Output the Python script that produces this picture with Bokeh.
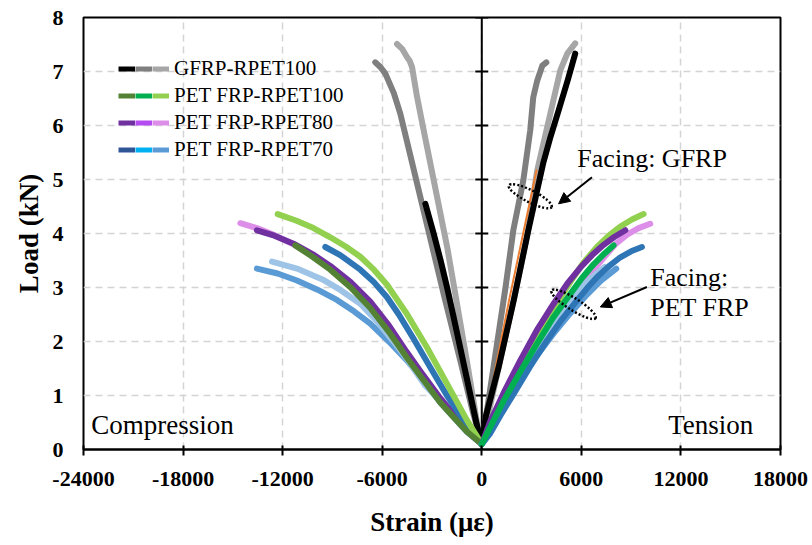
from bokeh.plotting import figure
from bokeh.models import (Range1d, FixedTicker, Legend, LegendItem, Label, Arrow,
                          NormalHead, Span, CustomJSTickFormatter)
from bokeh.embed import file_html
from bokeh.resources import INLINE

# ---------------- axes ----------------
x_ticks = [-24000, -18000, -12000, -6000, 0, 6000, 12000, 18000]
y_ticks = [0, 1, 2, 3, 4, 5, 6, 7, 8]

# ---------------- GFRP-RPET100 ----------------
gfrp_black_comp_strain = [0, -330, -680, -1030, -1380, -1730, -2090, -2480, -2900, -3400]
gfrp_black_comp_load = [0.1, 0.5, 1.0, 1.5, 2.0, 2.5, 3.0, 3.5, 4.0, 4.55]
gfrp_black_ten_strain = [0, 240, 1020, 1930, 2770, 3250, 3700, 4150, 4580, 5180, 5630]
gfrp_black_ten_load = [0.1, 0.61, 1.53, 2.77, 4.01, 4.68, 5.3, 5.8, 6.23, 6.84, 7.33]

gfrp_dgray_comp_strain = [0, -560, -1300, -2250, -3700, -4910, -5300, -5810, -6100, -6420]
gfrp_dgray_comp_load = [0.1, 0.72, 1.65, 2.82, 4.67, 6.22, 6.6, 6.96, 7.08, 7.17]
gfrp_dgray_ten_strain = [0, 450, 940, 1430, 1900, 2500, 2920, 3100, 3340, 3650, 3890]
gfrp_dgray_ten_load = [0.1, 1.0, 2.0, 3.0, 4.06, 4.98, 5.91, 6.52, 6.83, 7.11, 7.17]

gfrp_lgray_comp_strain = [0, -210, -870, -2080, -3500, -3900, -4200, -4350, -4510, -4800, -5110]
gfrp_lgray_comp_load = [0.1, 0.35, 1.59, 3.74, 5.91, 6.53, 7.08, 7.2, 7.27, 7.42, 7.51]
gfrp_lgray_ten_strain = [0, 1020, 1930, 2770, 3340, 4130, 4730, 5150, 5630]
gfrp_lgray_ten_load = [0.1, 1.53, 2.77, 4.01, 5.17, 6.22, 7.02, 7.33, 7.52]

gfrp_orange_ten_strain = [0, 700, 1650, 2500, 3300]
gfrp_orange_ten_load = [0.1, 1.3, 2.77, 4.01, 5.17]

# ---------------- PET FRP-RPET100 ----------------
r100_lgreen_comp_strain = [0, -890, -2100, -3300, -4510, -5710, -6500, -7320, -8200, -9130,
                           -10140, -11200, -12300]
r100_lgreen_comp_load = [0.1, 0.54, 1.22, 1.89, 2.51, 3.05, 3.33, 3.57, 3.76, 3.93,
                         4.1, 4.24, 4.36]
r100_lgreen_ten_strain = [0, 510, 1200, 1920, 2800, 3720, 4500, 5330, 6100, 6940, 7650,
                          8350, 9050, 9750]
r100_lgreen_ten_load = [0.1, 0.42, 0.85, 1.27, 1.78, 2.27, 2.7, 3.1, 3.45, 3.75, 3.96,
                        4.13, 4.26, 4.36]

r100_dgreen_comp_strain = [0, -890, -1700, -2500, -3700, -4510, -5600, -6720, -7900, -9130,
                           -10200, -11240]
r100_dgreen_comp_load = [0.1, 0.33, 0.6, 0.87, 1.36, 1.7, 2.18, 2.62, 3.0, 3.33, 3.57, 3.78]

r100_green_ten_strain = [0, 400, 1310, 2300, 3330, 4300, 5330, 6050, 6740, 7400, 7940]
r100_green_ten_load = [0.1, 0.35, 0.9, 1.43, 1.96, 2.44, 2.88, 3.18, 3.43, 3.63, 3.78]

# ---------------- PET FRP-RPET80 ----------------
r80_purple_comp_strain = [0, -900, -2500, -3700, -4510, -5600, -6720, -7900, -9130, -10200,
                          -11340, -12500, -13550]
r80_purple_comp_load = [0.1, 0.36, 0.95, 1.45, 1.8, 2.3, 2.74, 3.1, 3.4, 3.62, 3.81, 3.96, 4.06]
r80_purple_ten_strain = [0, 510, 1400, 2320, 3300, 4330, 5150, 5940, 6650, 7340, 8000, 8650]
r80_purple_ten_load = [0.1, 0.52, 1.1, 1.65, 2.2, 2.7, 3.07, 3.37, 3.6, 3.79, 3.94, 4.06]

r80_pink_comp_strain = [0, -900, -2500, -3700, -4510, -5600, -6720, -7900, -9130, -10200,
                        -11540, -12500, -13550, -14550]
r80_pink_comp_load = [0.1, 0.34, 0.92, 1.42, 1.77, 2.26, 2.7, 3.06, 3.36, 3.6, 3.83, 3.97,
                      4.1, 4.19]
r80_pink_ten_strain = [0, 510, 1400, 2320, 3400, 4530, 5350, 6130, 6750, 7340, 8050, 8750,
                       9450, 10150]
r80_pink_ten_load = [0.1, 0.35, 0.82, 1.28, 1.84, 2.38, 2.75, 3.07, 3.33, 3.55, 3.8, 3.98,
                     4.1, 4.18]

# ---------------- PET FRP-RPET70 ----------------
r70_blue_comp_strain = [0, -900, -2100, -3100, -4110, -5000, -5710, -6500, -7320, -8530, -9430]
r70_blue_comp_load = [0.1, 0.45, 1.0, 1.52, 2.05, 2.5, 2.82, 3.1, 3.33, 3.6, 3.75]
r70_blue_ten_strain = [0, 510, 1200, 1920, 2900, 3930, 4850, 5740, 6350, 6940, 7650, 8350,
                       9000, 9650]
r70_blue_ten_load = [0.1, 0.3, 0.67, 1.03, 1.53, 2.02, 2.42, 2.76, 2.99, 3.19, 3.39, 3.56,
                     3.67, 3.75]

r70_lblue_comp_strain = [0, -900, -2200, -3400, -4400, -5320, -6300, -7320, -8500, -9600,
                         -11140, -12640]
r70_lblue_comp_load = [0.1, 0.35, 0.8, 1.18, 1.63, 2.0, 2.37, 2.7, 2.95, 3.15, 3.35, 3.48]
r70_lblue_ten_strain = [0, 400, 1200, 2100, 3000, 3900, 4650, 5330, 6000, 6600, 7400]
r70_lblue_ten_load = [0.1, 0.3, 0.75, 1.2, 1.67, 2.1, 2.45, 2.75, 3.0, 3.18, 3.38]

r70_sblue_comp_strain = [0, -900, -2500, -3500, -4510, -5600, -6720, -7700, -8730, -9900,
                         -11140, -12300, -13550]
r70_sblue_comp_load = [0.1, 0.33, 0.87, 1.27, 1.65, 2.0, 2.33, 2.56, 2.77, 2.96, 3.13, 3.26,
                       3.35]
r70_sblue_ten_strain = [0, 310, 1100, 1920, 3100, 4330, 5350, 6340, 7200, 8100]
r70_sblue_ten_load = [0.1, 0.27, 0.7, 1.1, 1.65, 2.15, 2.53, 2.87, 3.13, 3.35]

# ---------------- legend ----------------
legend_labels = ["GFRP-RPET100", "PET FRP-RPET100", "PET FRP-RPET80", "PET FRP-RPET70"]
legend_colors = [
    ["#000000", "#7f7f7f", "#a6a6a6"],
    ["#548235", "#00b050", "#92d050"],
    ["#7030a0", "#b44cf2", "#dd8ee8"],
    ["#2f5597", "#00b0f0", "#5b9bd5"],
]

# ---------------- annotations ----------------
ann_texts = ["Facing: GFRP", "Facing:", "PET FRP", "Compression", "Tension"]
ann_x = [5760, 10150, 10150, -23530, 16360]
ann_y = [5.39, 3.19, 2.63, 0.45, 0.45]
ann_align = ["left", "left", "left", "left", "right"]
ann_size = ["26px", "26px", "26px", "27px", "27px"]

arrow_x0 = [6640, 9950]
arrow_y0 = [5.04, 3.01]
arrow_x1 = [4630, 7140]
arrow_y1 = [4.55, 2.64]

ell_x = [2920, 5530]
ell_y = [4.69, 2.69]
ell_w = [48, 52]
ell_h = [12, 12]
ell_angle = [-0.47, -0.56]

FONT = "Liberation Serif"

p = figure(width=812, height=545, output_backend="svg", toolbar_location=None,
           x_range=Range1d(-24000, 18000), y_range=Range1d(0, 8),
           min_border_left=83, min_border_right=32, min_border_top=17, min_border_bottom=96)

p.background_fill_color = "white"
p.border_fill_color = "white"
p.outline_line_color = "black"
p.outline_line_width = 2

# axes
p.xaxis.ticker = FixedTicker(ticks=x_ticks)
p.yaxis.ticker = FixedTicker(ticks=y_ticks)
p.xaxis.formatter = CustomJSTickFormatter(code="return tick.toString()")
for ax in (p.xaxis, p.yaxis):
    ax.major_label_text_font = FONT
    ax.major_label_text_font_style = "bold"
    ax.major_label_text_font_size = "22px"
    ax.major_label_text_color = "black"
    ax.axis_label_text_font = FONT
    ax.axis_label_text_font_style = "bold"
    ax.axis_label_text_font_size = "27px"
    ax.axis_label_text_color = "black"
    ax.minor_tick_line_color = None

p.xaxis.axis_label = "Strain (\u03bc\u03b5)"
p.xaxis.axis_line_color = "black"
p.xaxis.axis_line_width = 2
p.xaxis.major_tick_line_color = "black"
p.xaxis.major_tick_line_width = 2
p.xaxis.major_tick_in = 4
p.xaxis.major_tick_out = 6
p.xaxis.major_label_standoff = 16
p.xaxis.axis_label_standoff = 18

p.yaxis.axis_label = "Load (kN)"
p.yaxis.axis_line_color = None
p.yaxis.major_tick_line_color = None
p.yaxis.major_tick_in = 0
p.yaxis.major_tick_out = 0
p.yaxis.major_label_standoff = 20
p.yaxis.axis_label_standoff = 6

# grid
p.xgrid.ticker = FixedTicker(ticks=x_ticks)
p.ygrid.ticker = FixedTicker(ticks=y_ticks)
for g in (p.xgrid, p.ygrid):
    g.grid_line_color = "#d4d4d4"
    g.grid_line_width = 1.5
    g.grid_line_dash = "7 5"

# center vertical axis at zero strain
p.add_layout(Span(location=0, dimension="height", line_color="black", line_width=2, level="underlay"))
p.scatter(x=[0] * (len(y_ticks) - 1), y=y_ticks[1:], marker="dash", size=13,
          line_color="black", line_width=2)

LW = 6
def curve(xs, ys, color, width=LW):
    p.line(xs, ys, line_color=color, line_width=width, line_cap="round", line_join="round")

# GFRP
curve(gfrp_lgray_comp_strain, gfrp_lgray_comp_load, "#a6a6a6")
curve(gfrp_lgray_ten_strain, gfrp_lgray_ten_load, "#a6a6a6")
curve(gfrp_dgray_comp_strain, gfrp_dgray_comp_load, "#7f7f7f")
curve(gfrp_dgray_ten_strain, gfrp_dgray_ten_load, "#7f7f7f")
curve(gfrp_orange_ten_strain, gfrp_orange_ten_load, "#ed7d31", width=2)
curve(gfrp_black_comp_strain, gfrp_black_comp_load, "#000000")
curve(gfrp_black_ten_strain, gfrp_black_ten_load, "#000000")

# compression PET
curve(r70_sblue_comp_strain, r70_sblue_comp_load, "#5b9bd5")
curve(r70_lblue_comp_strain, r70_lblue_comp_load, "#9dc3e6")
curve(r80_pink_comp_strain, r80_pink_comp_load, "#dd8ee8")
curve(r80_purple_comp_strain, r80_purple_comp_load, "#7030a0")
curve(r70_blue_comp_strain, r70_blue_comp_load, "#2e75b6")
curve(r100_lgreen_comp_strain, r100_lgreen_comp_load, "#92d050")
curve(r100_dgreen_comp_strain, r100_dgreen_comp_load, "#548235")

# tension PET
curve(r100_lgreen_ten_strain, r100_lgreen_ten_load, "#92d050")
curve(r80_pink_ten_strain, r80_pink_ten_load, "#dd8ee8")
curve(r70_lblue_ten_strain, r70_lblue_ten_load, "#9dc3e6")
curve(r70_sblue_ten_strain, r70_sblue_ten_load, "#5b9bd5")
curve(r80_purple_ten_strain, r80_purple_ten_load, "#7030a0")
curve(r70_blue_ten_strain, r70_blue_ten_load, "#2e75b6")
curve(r100_green_ten_strain, r100_green_ten_load, "#00b050")

# annotations
p.ellipse(x=ell_x, y=ell_y, width=ell_w, height=ell_h, width_units="screen",
          height_units="screen", angle=ell_angle, fill_color=None,
          line_color="black", line_dash="2 2", line_width=2.5)
for i in range(len(arrow_x0)):
    p.add_layout(Arrow(end=NormalHead(size=11, line_color="black", fill_color="black"),
                       x_start=arrow_x0[i], y_start=arrow_y0[i],
                       x_end=arrow_x1[i], y_end=arrow_y1[i],
                       line_color="black", line_width=2))
for t, x, y, a, s in zip(ann_texts, ann_x, ann_y, ann_align, ann_size):
    p.add_layout(Label(x=x, y=y, text=t, text_font=FONT, text_font_size=s,
                       text_align=a, text_baseline="middle", text_color="black"))

# legend: three side-by-side colour segments per entry (key-only renderers, no visible data)
nan = float("nan")
seg_renderers = [[p.line(x=[nan], y=[nan], line_color=c, line_width=5) for c in row]
                 for row in legend_colors]
for k in range(3):
    items = [LegendItem(label=(legend_labels[i] if k == 2 else " "),
                        renderers=[seg_renderers[i][k]], index=0) for i in range(4)]
    leg = Legend(items=items, location=(35 + 17 * k, 286), orientation="vertical",
                 padding=0, margin=0, spacing=0, glyph_width=17, glyph_height=27,
                 label_height=27, label_width=0,
                 label_standoff=(5 if k == 2 else 0),
                 label_text_font=FONT, label_text_font_size="21px",
                 label_text_color="black",
                 background_fill_alpha=0, border_line_alpha=0)
    p.add_layout(leg)

open("out.html", "w").write(file_html(p, INLINE))
